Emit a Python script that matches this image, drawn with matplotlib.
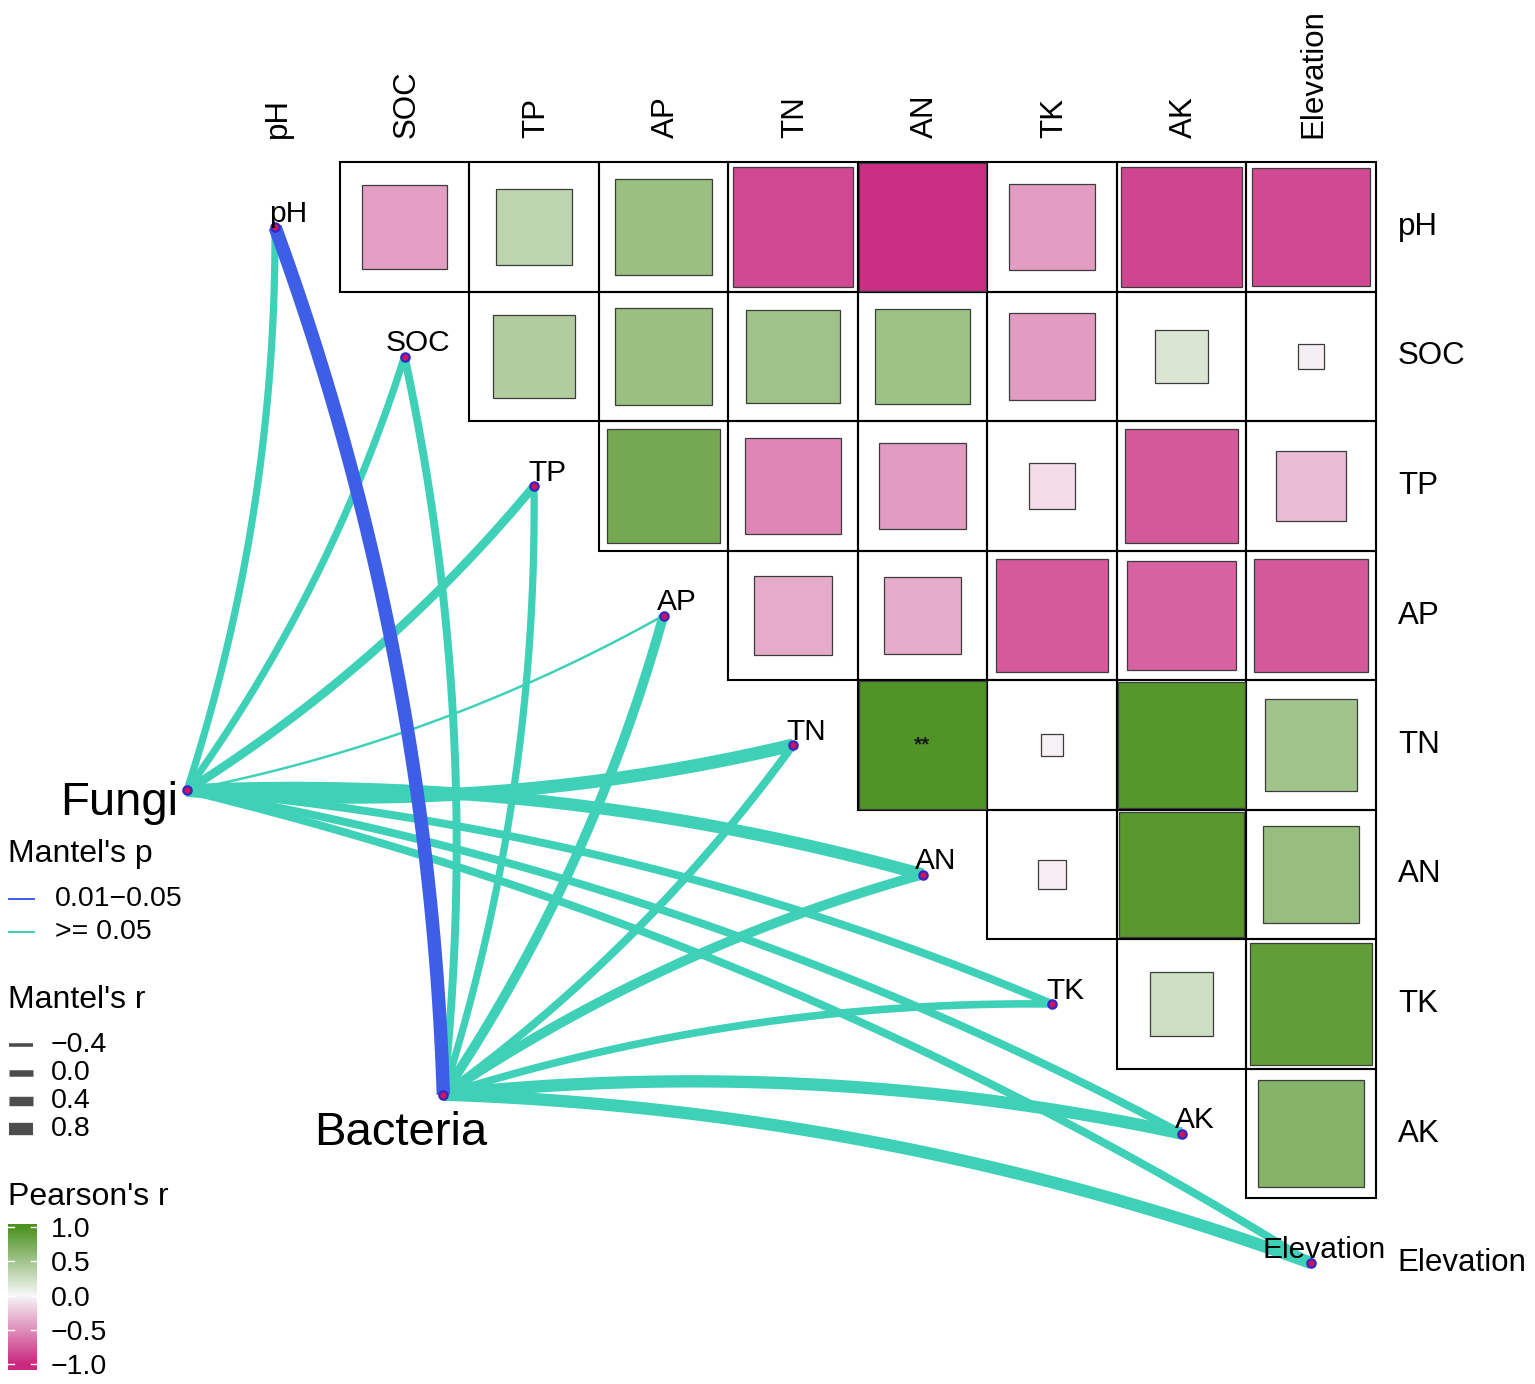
import numpy as np
import matplotlib
matplotlib.use("Agg")
import matplotlib.pyplot as plt
from matplotlib.colors import LinearSegmentedColormap, Normalize
from matplotlib.patches import Rectangle

plt.rcParams['font.family'] = ['Liberation Sans', 'DejaVu Sans']

# environmental factors (rows / columns of the matrix)
env = ["pH", "SOC", "TP", "AP", "TN", "AN", "TK", "AK", "Elevation"]

# Pearson's r, upper triangle, one list per row (columns to the right of the diagonal)
r_pH = [-0.43, 0.34, 0.55, -0.85, -0.97, -0.44, -0.86, -0.84]
r_SOC = [0.41, 0.55, 0.52, 0.53, -0.45, 0.17, -0.04]
r_TP = [0.77, -0.54, -0.45, -0.13, -0.77, -0.29]
r_AP = [-0.37, -0.36, -0.76, -0.72, -0.77]
r_TN = [0.97, -0.03, 0.95, 0.50]
r_AN = [-0.05, 0.93, 0.56]
r_TK = [0.24, 0.88]
r_AK = [0.67]
upper_rows = [r_pH, r_SOC, r_TP, r_AP, r_TN, r_AN, r_TK, r_AK]
stars = {("TN", "AN"): "**"}

# Mantel test, one value per env factor
species = ["Fungi", "Bacteria"]
mantel_r = {
    "Fungi":    [0.10, 0.10, 0.30, -0.55, 0.90, 0.80, 0.20, 0.20, 0.20],
    "Bacteria": [0.95, 0.20, 0.10, 0.45, 0.20, 0.45, 0.15, 0.80, 0.80],
}
mantel_p = {
    "Fungi":    [">= 0.05"] * 9,
    "Bacteria": ["0.01-0.05"] + [">= 0.05"] * 8,
}
p_levels = ["0.01-0.05", ">= 0.05"]
p_labels = ["0.01\u22120.05", ">= 0.05"]
r_breaks = [-0.4, 0.0, 0.4, 0.8]
cbar_ticks = [1.0, 0.5, 0.0, -0.5, -1.0]

# ---- styling
W, H = 1535, 1384
cell = 129.5                       # px per matrix cell
p_col = {"0.01-0.05": "#3f5ee8", ">= 0.05": "#3ed1b8"}
cmap = LinearSegmentedColormap.from_list("piyg3", ["#c92a80", "#f7f7f7", "#4d9221"])
norm = Normalize(-1, 1)
anchor = {"Fungi": (-0.68, 4.35), "Bacteria": (1.30, 6.70)}
curv = 0.08


def width_pt(r):
    return (6.5 + 7.3 * r) * 0.72


fig = plt.figure(figsize=(W / 100, H / 100), dpi=100)
ax = fig.add_axes([0, 0, 1, 1])
ax.set_xlim(-275 / cell, (W - 275) / cell)
ax.set_ylim((H - 227) / cell, -227 / cell)
ax.axis("off")

n = len(env)

# correlation cells
for i, row in enumerate(upper_rows):
    for k, val in enumerate(row):
        j = i + 1 + k
        ax.add_patch(Rectangle((j - 0.5, i - 0.5), 1, 1, fill=False,
                               ec="black", lw=1.5, zorder=1))
        s = np.sqrt(abs(val))
        ax.add_patch(Rectangle((j - s / 2, i - s / 2), s, s,
                               fc=cmap(norm(val)), ec="#3c3c3c", lw=0.9, zorder=2))
        if (env[i], env[j]) in stars:
            ax.text(j, i, stars[(env[i], env[j])], ha="center", va="center",
                    fontsize=15, fontweight="bold", color="#1a1a1a", zorder=3)

# axis labels
for j, name in enumerate(env):
    ax.text(j + 0.02, -0.69, name, rotation=90, ha="center", va="bottom", fontsize=22.5)
    ax.text(8.67, j, name, ha="left", va="center", fontsize=22.5)

# mantel links
for sp in species:
    x0, y0 = anchor[sp]
    for k, name in enumerate(env):
        x2, y2 = k, k
        dx, dy = x2 - x0, y2 - y0
        L = np.hypot(dx, dy)
        side = 1 if k < n / 2 else -1
        nx, ny = -dy / L, dx / L
        cx = (x0 + x2) / 2 + side * curv * L * nx
        cy = (y0 + y2) / 2 + side * curv * L * ny
        t = np.linspace(0, 1, 80)
        bx = (1 - t) ** 2 * x0 + 2 * (1 - t) * t * cx + t ** 2 * x2
        by = (1 - t) ** 2 * y0 + 2 * (1 - t) * t * cy + t ** 2 * y2
        p = mantel_p[sp][k]
        ax.plot(bx, by, color=p_col[p], lw=width_pt(mantel_r[sp][k]),
                solid_capstyle="butt", zorder=4 if p == ">= 0.05" else 5)

# nodes
for k, name in enumerate(env):
    ax.plot(k, k, "o", ms=6, mfc="#d0145a", mec="#3426c8", mew=1.6, zorder=6)
    ax.text(k + 0.1, k - 0.04, name, ha="center", va="baseline", fontsize=21.5, zorder=7)
for sp in species:
    x0, y0 = anchor[sp]
    ax.plot(x0, y0, "o", ms=6, mfc="#d0145a", mec="#3426c8", mew=1.6, zorder=6)
ax.text(anchor["Fungi"][0] - 0.07, anchor["Fungi"][1] + 0.19, "Fungi",
        ha="right", va="baseline", fontsize=34)
ax.text(anchor["Bacteria"][0] - 0.33, anchor["Bacteria"][1] + 0.39, "Bacteria",
        ha="center", va="baseline", fontsize=34)

# ---- legends (pixel layout)
leg = fig.add_axes([0, 0, 1, 1], facecolor="none")
leg.set_xlim(0, W)
leg.set_ylim(H, 0)
leg.axis("off")

leg.text(8, 854, "Mantel's p", ha="left", va="center", fontsize=23)
for q, (lev, lab) in enumerate(zip(p_levels, p_labels)):
    y = 899 + 33 * q
    leg.plot([9, 34], [y, y], color=p_col[lev], lw=1.4)
    leg.text(55, y, lab, ha="left", va="center", fontsize=20.5)

leg.text(8, 1000, "Mantel's r", ha="left", va="center", fontsize=23)
for q, rb in enumerate(r_breaks):
    y = 1045 + 28 * q
    leg.plot([9, 33], [y, y], color="#4d4d4d", lw=width_pt(rb), solid_capstyle="butt")
    leg.text(51, y, f"{rb:.1f}".replace("-", "\u2212"), ha="left", va="center",
             fontsize=20.5)

leg.text(8, 1197, "Pearson's r", ha="left", va="center", fontsize=23)
top_v, bot_v = 1.04, -1.09
y_top = 1295.5 - 68.5 * top_v
y_bot = 1295.5 - 68.5 * bot_v
cax = fig.add_axes([8 / W, 1 - y_bot / H, 29 / W, (y_bot - y_top) / H])
grad = np.linspace(top_v, bot_v, 300)[:, None]
cax.imshow(grad, aspect="auto", cmap=cmap, norm=norm,
           extent=[0, 1, bot_v, top_v])
cax.set_xlim(0, 1)
cax.set_ylim(bot_v, top_v)
for v in cbar_ticks:
    cax.plot([0, 0.2], [v, v], color="white", lw=1)
    cax.plot([0.8, 1], [v, v], color="white", lw=1)
cax.set_xticks([])
cax.set_yticks(cbar_ticks)
cax.set_yticklabels([f"{v:.1f}".replace("-", "\u2212") for v in cbar_ticks])
cax.tick_params(axis="y", left=False, right=False, labelleft=False,
                labelright=True, length=0, pad=10, labelsize=20.5)
for sp_ in cax.spines.values():
    sp_.set_visible(False)

fig.savefig("out.png", dpi=100)
